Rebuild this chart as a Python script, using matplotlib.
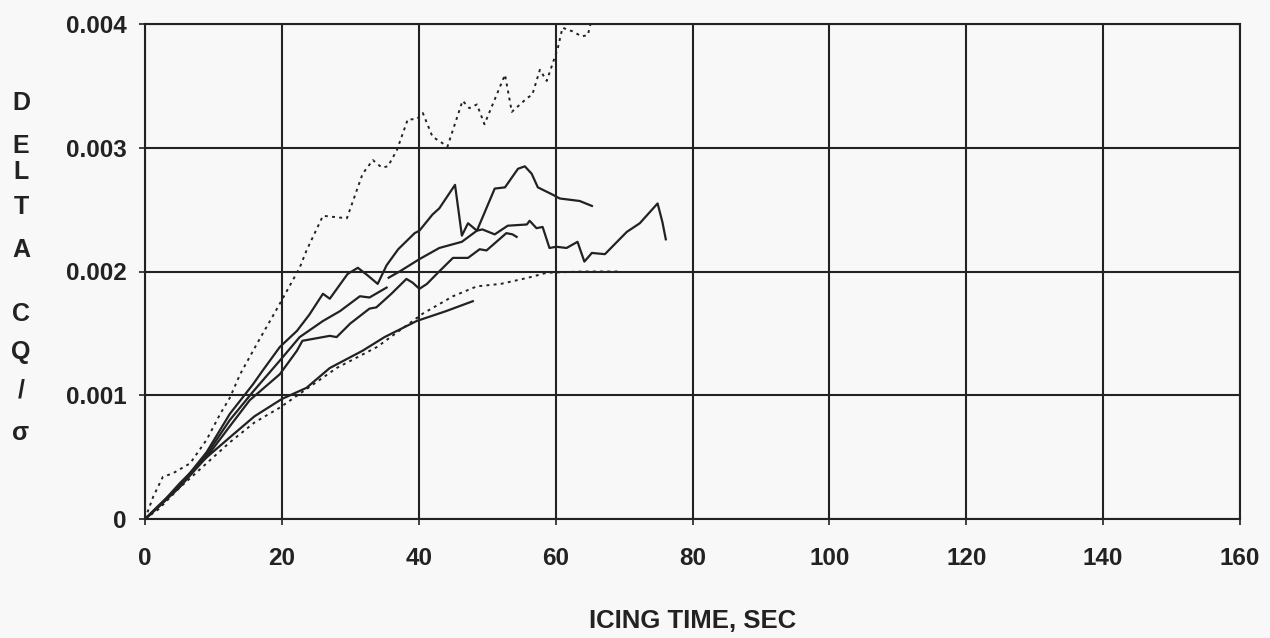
import numpy as np
import matplotlib
matplotlib.use("Agg")
from matplotlib import pyplot as plt

nan = np.nan

# upper dotted curve
upper_dot_x = [0, 1.2, 2.6, 4.1, 6.6, 9, 11, 12.4, 13.9, 16.4, 19.4, 22.6, 23.6, 26, 29.5,
               31.8, 33.3, 34.6, 35.5, 36.8, 38.4, 39.7, 40.6, 42, 44.2, 46.4, 47.4, 48.5,
               49.6, 52.6, 53.6, 55.8, 56.6, 57.7, 58.7, 60.3, 61, 62.5, 63.8, 64.7, 65.1]
upper_dot_y = [0, 0.00018, 0.00034, 0.00037, 0.00045, 0.00064, 0.00085, 0.00098, 0.00117,
               0.00142, 0.00171, 0.00203, 0.00217, 0.00245, 0.00243, 0.00279, 0.0029,
               0.00284, 0.00285, 0.00298, 0.00323, 0.00323, 0.00328, 0.00309, 0.00301,
               0.00338, 0.00332, 0.00335, 0.00319, 0.00359, 0.00329, 0.0034, 0.00343,
               0.00363, 0.00354, 0.0038, 0.00397, 0.00394, 0.0039, 0.00391, 0.004]

# lower dotted curve
lower_dot_x = [0, 2, 5, 8, 12.4, 16, 19.7, 23.6, 28, 33.9, 40.6, 45, 48.5, 52, 56, 58.7, 64, 69.3]
lower_dot_y = [0, 0.00008, 0.00025, 0.0004, 0.00062, 0.00078, 0.0009, 0.00105, 0.00122,
               0.00139, 0.00166, 0.0018, 0.00188, 0.0019, 0.00195, 0.00199, 0.002, 0.002]

# lowest solid curve
run_s_x = [0, 2, 5.1, 8, 12.4, 16, 20, 23.6, 27, 31.8, 35, 39.7, 44, 47.9]
run_s_y = [0, 0.0001, 0.00029, 0.00045, 0.00066, 0.00083, 0.00097, 0.00106, 0.00122,
           0.00136, 0.00147, 0.0016, 0.00168, 0.00176]

# solid curve with the spike at 45 s, runs out to 76 s
run_a_x = [0, 2, 5.1, 9, 12.4, 15.8, 17.2, 19.7, 22.2, 24, 26, 27, 29.6, 31.1, 32.5, 34,
           35.3, 37, 39.4, 40.1, 42, 43, 45.3, 46.3, 47.2, 48.5, 49.3, 51.1, 53, 55.8,
           56.2, 57.2, 58.1, 59.1, 60.1, 61.6, 63.2, 64.2, 65.3, 67.2, 70.4, 72.3, 74.9,
           75.6, 76.1]
run_a_y = [0, 0.00011, 0.00027, 0.00054, 0.00085, 0.00109, 0.0012, 0.00139, 0.00152,
           0.00165, 0.00182, 0.00178, 0.00198, 0.00203, 0.00197, 0.0019, 0.00205, 0.00218,
           0.00231, 0.00233, 0.00246, 0.00251, 0.0027, 0.00229, 0.00239, 0.00233, 0.00234,
           0.0023, 0.00237, 0.00238, 0.00241, 0.00235, 0.00236, 0.00219, 0.0022, 0.00219,
           0.00224, 0.00208, 0.00215, 0.00214, 0.00232, 0.00239, 0.00255, 0.0024, 0.00226]

# solid curve with a gap at 35 s, peaks near 56 s
run_d_x = [0, 2, 5.1, 9, 12.4, 15.8, 19.7, 22.6, 26, 28.5, 31.4, 32.8, 35.3, nan,
           35.6, 37.2, 40.1, 43, 46.3, 48.5, 51.1, 52.6, 54.5, 55.5, 56.5, 57.4, 59.6,
           60.6, 63.5, 65.3]
run_d_y = [0, 0.0001, 0.00026, 0.00052, 0.0008, 0.00103, 0.00128, 0.00147, 0.0016,
           0.00168, 0.0018, 0.00179, 0.00187, nan,
           0.00195, 0.002, 0.0021, 0.00219, 0.00224, 0.00233, 0.00267, 0.00268, 0.00283,
           0.00285, 0.00279, 0.00268, 0.00262, 0.00259, 0.00257, 0.00253]

# solid curve ending at 54 s
run_c_x = [0, 2, 5.1, 9, 12.4, 15.3, 19.7, 22.2, 23, 27, 28, 30, 32.8, 33.8, 36, 38.2,
           39.1, 40.1, 41.2, 42.8, 45, 47.2, 48.9, 49.9, 52.8, 53.7, 54.3]
run_c_y = [0, 0.0001, 0.00026, 0.0005, 0.00075, 0.00096, 0.00117, 0.00136, 0.00144,
           0.00148, 0.00147, 0.00158, 0.0017, 0.00171, 0.00182, 0.00194, 0.00191, 0.00186,
           0.0019, 0.00199, 0.00211, 0.00211, 0.00218, 0.00217, 0.00231, 0.0023, 0.00228]

x_ticks = [0, 20, 40, 60, 80, 100, 120, 140, 160]
y_ticks = [0, 0.001, 0.002, 0.003, 0.004]
y_tick_labels = ['0', '0.001', '0.002', '0.003', '0.004']
y_letters = ['D', 'E', 'L', 'T', 'A', 'C', 'Q', '/', 'σ']
y_letter_pos = [103, 146, 172, 207, 250, 314, 352, 391, 433]

plt.rcParams['font.family'] = ['Liberation Sans', 'DejaVu Sans']

fig = plt.figure(figsize=(12.7, 6.38), dpi=100, facecolor='#f8f8f8')
ax = fig.add_axes([145 / 1270, 1 - 519 / 638, (1240 - 145) / 1270, (519 - 24) / 638])
ax.set_facecolor('#f8f8f8')

dots = (0, (1.5, 2.2))
ax.plot(upper_dot_x, upper_dot_y, color='#222222', lw=1.4, ls=dots)
ax.plot(lower_dot_x, lower_dot_y, color='#222222', lw=1.4, ls=dots)
for xs, ys in [(run_s_x, run_s_y), (run_a_x, run_a_y), (run_d_x, run_d_y), (run_c_x, run_c_y)]:
    ax.plot(xs, ys, color='#222222', lw=1.6)

ax.set_xlim(0, 160)
ax.set_ylim(0, 0.004)
ax.set_xticks(x_ticks)
ax.set_xticklabels([str(t) for t in x_ticks])
ax.set_yticks(y_ticks)
ax.set_yticklabels(y_tick_labels)
ax.grid(True, color='#222222', lw=1.5)
for s in ax.spines.values():
    s.set_color('#222222')
    s.set_linewidth(1.5)
ax.tick_params(direction='out', length=4, width=1.2, colors='#222222')
ax.tick_params(axis='x', pad=16)
ax.tick_params(axis='y', pad=9)
for lab in ax.get_xticklabels() + ax.get_yticklabels():
    lab.set_fontsize(17.5)
    lab.set_fontweight('bold')
    lab.set_color('#222222')

ax.set_xlabel('ICING TIME, SEC', fontsize=18.5, fontweight='bold', color='#222222', labelpad=28)

for ch, py in zip(y_letters, y_letter_pos):
    fig.text(21 / 1270, 1 - py / 638, ch, fontsize=18, fontweight='bold',
             color='#222222', ha='center', va='center')

fig.savefig('out.png', dpi=100, facecolor=fig.get_facecolor())
